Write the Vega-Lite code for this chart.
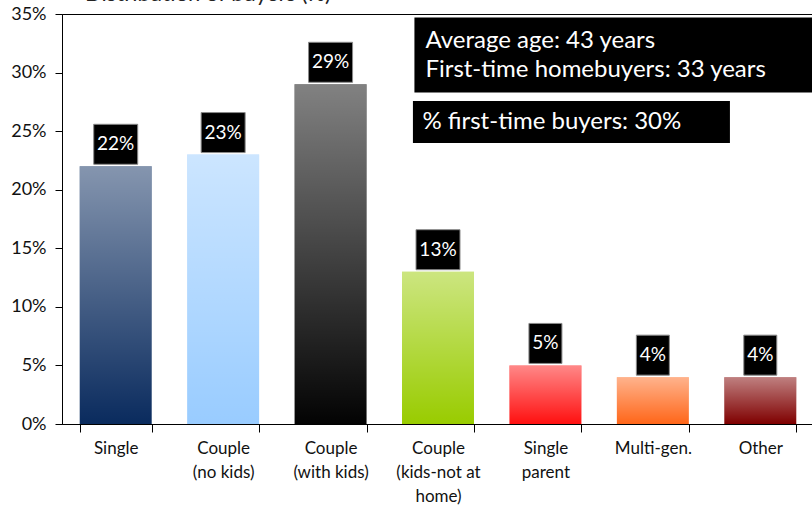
{
  "$schema": "https://vega.github.io/schema/vega-lite/v6.json",
  "width": 752,
  "height": 410,
  "autosize": {"type": "none"},
  "padding": {"left": 62, "top": 14, "right": 0, "bottom": 92},
  "background": "white",
  "config": {
    "view": {"stroke": "black", "strokeWidth": 1},
    "font": "Lato"
  },
  "title": {
    "text": "Distribution of buyers (%)",
    "anchor": "start",
    "frame": "group",
    "dx": 23,
    "offset": 0,
    "dy": 18,
    "baseline": "alphabetic",
    "fontSize": 22,
    "fontWeight": "normal",
    "color": "#222222"
  },
  "layer": [
    {
      "data": {
        "values": [
          {"type": "Single", "share": 0.22},
          {"type": "Couple (no kids)", "share": 0.23},
          {"type": "Couple (with kids)", "share": 0.29},
          {"type": "Couple (kids-not at home)", "share": 0.13},
          {"type": "Single parent", "share": 0.05},
          {"type": "Multi-gen.", "share": 0.04},
          {"type": "Other", "share": 0.04}
        ]
      },
      "encoding": {
        "x": {
          "field": "type",
          "type": "nominal",
          "sort": null,
          "scale": {"paddingInner": 0.33, "paddingOuter": 0.165},
          "axis": {
            "title": null,
            "labelAngle": 0,
            "tickBand": "extent",
            "tickSize": 8,
            "tickColor": "black",
            "domainColor": "black",
            "labelFontSize": 17,
            "labelColor": "#111111",
            "labelLineHeight": 24,
            "labelPadding": 8,
            "labelExpr": "!datum.value ? '' : datum.value == 'Couple (kids-not at home)' ? ['Couple', '(kids-not at', 'home)'] : split(replace(datum.value, ' ', '|'), '|')"
          }
        },
        "y": {
          "field": "share",
          "type": "quantitative",
          "scale": {"domain": [0, 0.35]},
          "axis": {
            "title": null,
            "grid": false,
            "values": [0, 0.05, 0.1, 0.15, 0.2, 0.25, 0.3, 0.35],
            "format": ".0%",
            "tickSize": 7,
            "tickColor": "black",
            "domainColor": "black",
            "labelFontSize": 18,
            "labelColor": "#111111",
            "labelPadding": 9
          }
        }
      },
      "layer": [
        {
          "mark": {"type": "bar"},
          "encoding": {
            "color": {
              "field": "type",
              "type": "nominal",
              "sort": null,
              "legend": null,
              "scale": {
                "domain": ["Single", "Couple (no kids)", "Couple (with kids)", "Couple (kids-not at home)", "Single parent", "Multi-gen.", "Other"],
                "range": ["#0A2B5E", "#99CCFF", "#030303", "#99CC00", "#FF1010", "#FF6619", "#7F0000"]
              }
            }
          }
        },
        {
          "mark": {
            "type": "bar",
            "color": {
              "gradient": "linear",
              "x1": 0, "y1": 0, "x2": 0, "y2": 1,
              "stops": [
                {"offset": 0, "color": "rgba(255,255,255,0.5)"},
                {"offset": 1, "color": "rgba(255,255,255,0)"}
              ]
            }
          }
        },
        {
          "mark": {
            "type": "point",
            "filled": true,
            "color": "black",
            "opacity": 1,
            "stroke": "#8a8a8a",
            "strokeWidth": 1,
            "size": 100,
            "yOffset": -22
          },
          "encoding": {
            "shape": {
              "condition": {"test": "datum.share >= 0.1", "value": "M-4.4,-4H4.4V4H-4.4Z"},
              "value": "M-3.3,-4H3.3V4H-3.3Z"
            }
          }
        },
        {
          "mark": {
            "type": "text",
            "color": "white",
            "fontSize": 19,
            "baseline": "middle",
            "align": "center",
            "dy": -22
          },
          "encoding": {
            "text": {"field": "share", "type": "quantitative", "format": ".0%"}
          }
        }
      ]
    },
    {
      "data": {"values": [{}]},
      "mark": {
        "type": "point",
        "filled": true,
        "color": "black",
        "opacity": 1,
        "size": 100,
        "shape": "M-41.6,-7.5H41.6V7.5H-41.6Z",
        "xOffset": 77,
        "yOffset": 0
      },
      "encoding": {
        "x": {"datum": "Single parent"},
        "y": {"datum": 0.315}
      }
    },
    {
      "data": {"values": [{}]},
      "mark": {
        "type": "point",
        "filled": true,
        "color": "black",
        "opacity": 1,
        "size": 100,
        "shape": "M-31.7,-4.2H31.7V4.2H-31.7Z",
        "xOffset": 26,
        "yOffset": 2.6
      },
      "encoding": {
        "x": {"datum": "Single parent"},
        "y": {"datum": 0.26}
      }
    },
    {
      "data": {"values": [{}]},
      "mark": {
        "type": "text",
        "color": "white",
        "fontSize": 24,
        "align": "left",
        "baseline": "alphabetic",
        "lineHeight": 29,
        "dx": -120,
        "dy": -7
      },
      "encoding": {
        "x": {"datum": "Single parent"},
        "y": {"datum": 0.315},
        "text": {"value": ["Average age: 43 years", "First-time homebuyers: 33 years"]}
      }
    },
    {
      "data": {"values": [{}]},
      "mark": {
        "type": "text",
        "color": "white",
        "fontSize": 24,
        "align": "left",
        "baseline": "alphabetic",
        "dx": -123,
        "dy": 9.6
      },
      "encoding": {
        "x": {"datum": "Single parent"},
        "y": {"datum": 0.26},
        "text": {"value": "% first-time buyers: 30%"}
      }
    }
  ]
}
